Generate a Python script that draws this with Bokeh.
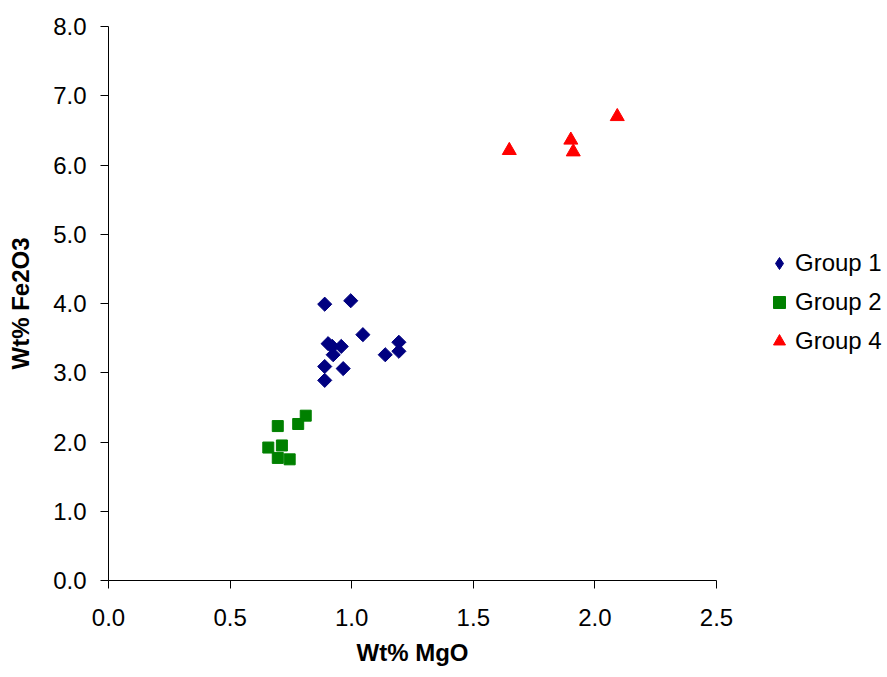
import math
from bokeh.plotting import figure
from bokeh.models import FixedTicker, NumeralTickFormatter, Range1d, Legend, LegendItem, Title
from bokeh.embed import file_html
from bokeh.resources import INLINE

# Data (Wt% MgO, Wt% Fe2O3)
g1_mgo = [0.889, 0.996, 1.046, 1.194, 1.194, 1.138, 0.903, 0.920, 0.957, 0.924, 0.889, 0.965, 0.889]
g1_fe = [3.99, 4.04, 3.55, 3.44, 3.31, 3.26, 3.42, 3.38, 3.38, 3.26, 3.09, 3.06, 2.89]
g2_mgo = [0.811, 0.780, 0.696, 0.713, 0.657, 0.696, 0.745]
g2_fe = [2.38, 2.26, 2.23, 1.95, 1.92, 1.77, 1.75]
g4_mgo = [1.648, 1.901, 1.911, 2.092]
g4_fe = [6.21, 6.36, 6.19, 6.70]

x_ticks = [0.0, 0.5, 1.0, 1.5, 2.0, 2.5]
y_ticks = [0, 1, 2, 3, 4, 5, 6, 7, 8]
x_axis_max = 2.5
y_axis_max = 8.0

FONT = "Liberation Sans"

# frame spans 108..883 px; the x axis itself stops at 2.5 (716 px), leaving room for the legend
frame_w = 883 - 108
axis_px = 716 - 108
x_end = x_axis_max * frame_w / axis_px

p = figure(width=885, height=677, output_backend="svg", toolbar_location=None,
           x_range=Range1d(0, x_end), y_range=Range1d(0, y_axis_max),
           min_border_left=108, min_border_right=2, min_border_top=26, min_border_bottom=97)
p.outline_line_color = None
p.grid.visible = False
p.background_fill_color = "white"

r1 = p.scatter(g1_mgo, g1_fe, marker="square", angle=math.pi / 4, size=10,
               fill_color="#000080", line_color="#000080")
r2 = p.scatter(g2_mgo, g2_fe, marker="square", size=11,
               fill_color="#008000", line_color="#008000")
r4 = p.scatter(g4_mgo, g4_fe, marker="triangle", size=14,
               fill_color="#FF0000", line_color="#FF0000")
# legend-only glyph for group 1 (diamond shape), no visible point
r1_leg = p.scatter([float("nan")], [float("nan")], marker="diamond",
                   fill_color="#000080", line_color="#000080")

for ax in (p.xaxis[0], p.yaxis[0]):
    ax.axis_line_color = "#000000"
    ax.major_tick_line_color = "#000000"
    ax.minor_tick_line_color = None
    ax.major_tick_in = 0
    ax.major_tick_out = 8
    ax.major_label_text_font = FONT
    ax.major_label_text_color = "#000000"
    ax.axis_label_text_font = FONT
    ax.axis_label_text_font_style = "bold"
    ax.axis_label_text_font_size = "24px"
    ax.axis_label_text_color = "#000000"

p.xaxis.bounds = (0, x_axis_max)
p.xaxis.ticker = FixedTicker(ticks=x_ticks)
p.yaxis.ticker = FixedTicker(ticks=y_ticks)
p.xaxis.formatter = NumeralTickFormatter(format="0.0")
p.yaxis.formatter = NumeralTickFormatter(format="0.0")
p.xaxis.major_label_text_font_size = "24px"
p.yaxis.major_label_text_font_size = "24px"
p.xaxis.major_label_standoff = 20
p.yaxis.major_label_standoff = 14
p.yaxis.axis_label = "Wt% Fe2O3"
p.yaxis.axis_label_standoff = 16

# x-axis title, centred under the axis (not under the wider frame)
xtitle = Title(text="Wt% MgO", align="left", offset=248, standoff=16,
               text_font=FONT, text_font_size="24px", text_font_style="bold",
               text_color="#000000")
p.add_layout(xtitle, "below")

legend = Legend(items=[LegendItem(label="Group 1", renderers=[r1_leg]),
                       LegendItem(label="Group 2", renderers=[r2]),
                       LegendItem(label="Group 4", renderers=[r4])],
                location=(656, 224))
legend.label_text_font = FONT
legend.label_text_font_size = "24px"
legend.label_text_color = "#000000"
legend.glyph_width = 30
legend.glyph_height = 30
legend.label_height = 30
legend.label_standoff = 1
legend.spacing = 9
legend.padding = 0
legend.margin = 0
legend.border_line_color = None
legend.background_fill_alpha = 0
p.add_layout(legend, "center")

open("out.html", "w").write(file_html(p, INLINE))
